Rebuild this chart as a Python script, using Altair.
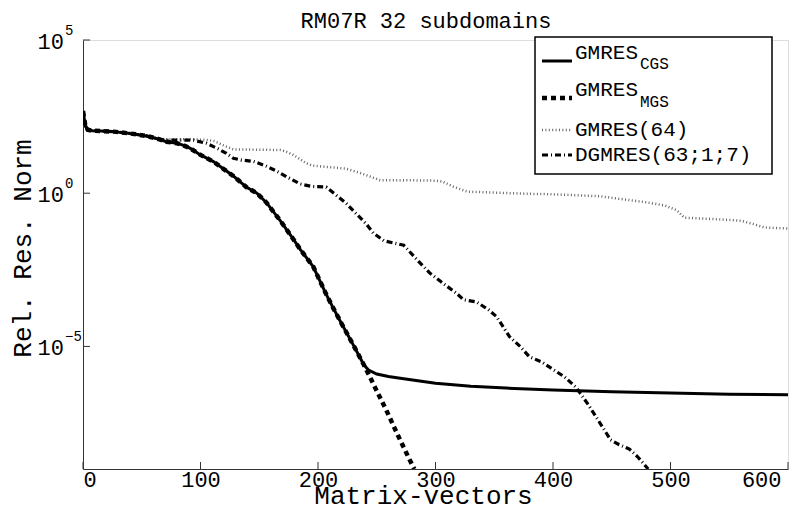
import altair as alt
import pandas as pd

TITLE = "RM07R 32 subdomains"
X_TITLE = "Matrix-vectors"
Y_TITLE = "Rel. Res. Norm"
FONT = "Liberation Mono"

x_ticks = [0, 100, 200, 300, 400, 500, 600]
y_tick_vals = [1e5, 1e0, 1e-5]
y_tick_exp = ["5", "0", "\u22125"]

# exponents (log10 of relative residual norm)
cgs_x = [0, 1, 2, 4, 8, 15, 26, 40, 54, 64, 71, 80, 85, 91, 100, 111, 120, 128, 139, 148,
         156, 168, 179, 185, 196, 207, 213, 220, 230, 239, 243, 250, 260, 270, 285, 300,
         330, 360, 400, 450, 500, 550, 600]
cgs_e = [2.68, 2.45, 2.2, 2.07, 2.04, 2.03, 2.01, 1.95, 1.87, 1.77, 1.68, 1.63, 1.57, 1.47,
         1.25, 1.03, 0.78, 0.56, 0.2, 0.0, -0.3, -0.9, -1.5, -1.84, -2.4, -3.3, -3.75, -4.25,
         -4.95, -5.6, -5.77, -5.9, -5.98, -6.04, -6.12, -6.2, -6.3, -6.36, -6.42, -6.48,
         -6.52, -6.56, -6.58]

mgs_x = [0, 1, 2, 4, 8, 15, 26, 40, 54, 64, 71, 80, 85, 91, 100, 111, 120, 128, 139, 148,
         156, 168, 179, 185, 196, 207, 213, 220, 230, 239, 241, 250, 258, 268, 278, 282]
mgs_e = [2.68, 2.45, 2.2, 2.07, 2.04, 2.03, 2.01, 1.95, 1.87, 1.77, 1.68, 1.63, 1.57, 1.47,
         1.25, 1.03, 0.78, 0.56, 0.2, 0.0, -0.3, -0.9, -1.5, -1.84, -2.4, -3.3, -3.75, -4.25,
         -4.95, -5.6, -5.75, -6.45, -7.07, -7.9, -8.7, -9.0]

g64_x = [0, 1, 2, 4, 8, 15, 26, 40, 54, 64, 75, 90, 105, 112, 119, 128, 150, 168, 172, 179,
         190, 195, 210, 224, 236, 241, 253, 280, 300, 306, 316, 327, 350, 380, 395, 410,
         440, 460, 480, 495, 505, 512, 540, 560, 570, 580, 600]
g64_e = [2.68, 2.45, 2.2, 2.07, 2.04, 2.03, 2.01, 1.95, 1.87, 1.77, 1.76, 1.76, 1.74, 1.70,
         1.57, 1.43, 1.42, 1.41, 1.37, 1.25, 0.98, 0.9, 0.85, 0.8, 0.66, 0.59, 0.42, 0.42,
         0.41, 0.38, 0.2, 0.05, 0.02, -0.02, -0.03, -0.05, -0.1, -0.2, -0.3, -0.4, -0.55,
         -0.8, -0.85, -0.9, -1.0, -1.12, -1.15]

dg_x = [0, 1, 2, 4, 8, 15, 26, 40, 54, 64, 68, 80, 94, 105, 115, 122, 128, 135, 145, 155,
        165, 175, 185, 195, 207, 215, 224, 232, 241, 247, 256, 265, 273, 285, 295, 305, 318,
        324, 335, 345, 352, 363, 372, 380, 390, 400, 410, 420, 430, 440, 449, 456, 465, 472,
        481]
dg_e = [2.68, 2.45, 2.2, 2.07, 2.04, 2.03, 2.01, 1.95, 1.87, 1.77, 1.74, 1.73, 1.73, 1.63,
        1.45, 1.3, 1.14, 1.08, 1.04, 0.9, 0.72, 0.5, 0.3, 0.22, 0.2, -0.05, -0.33, -0.65,
        -1.0, -1.3, -1.55, -1.63, -1.7, -2.2, -2.6, -2.9, -3.27, -3.48, -3.55, -3.8, -4.03,
        -4.68, -5.0, -5.34, -5.5, -5.75, -6.0, -6.35, -6.9, -7.5, -8.05, -8.2, -8.35, -8.6,
        -9.0]

W, H = 705, 429


def frame(xs, es):
    return pd.DataFrame({"v": xs, "r": [10.0 ** e for e in es]})


xscale = alt.Scale(domain=[0, 600], nice=False, zero=False)
yscale = alt.Scale(type="log", domain=[1e-9, 1e5], nice=False)
xaxis = alt.Axis(title=X_TITLE, values=x_ticks, ticks=False, grid=False, labelFont=FONT,
                 labelFontSize=22, labelPadding=0, labelColor="black", domainColor="#333",
                 labelOffset={"condition": {"test": "datum.value == 600", "value": -7},
                              "value": 0},
                 titleFont=FONT, titleFontSize=26, titleFontWeight="normal", titleColor="black",
                 titleBaseline="alphabetic", titleY=34, titleX=340)
yaxis = alt.Axis(title=Y_TITLE, labels=False, ticks=False, grid=False, domainColor="#333",
                 titleFont=FONT, titleFontSize=26, titleFontWeight="normal", titleColor="black",
                 titleBaseline="alphabetic", titleX=-53, titleY=208, titleAngle=270)


def enc():
    return dict(x=alt.X("v:Q", scale=xscale, axis=xaxis), y=alt.Y("r:Q", scale=yscale, axis=yaxis))


g64 = alt.Chart(frame(g64_x, g64_e)).mark_line(
    color="#666", strokeWidth=2.5, strokeDash=[1, 2.4], clip=True).encode(**enc())
dg = alt.Chart(frame(dg_x, dg_e)).mark_line(
    color="black", strokeWidth=3.2, strokeDash=[6, 3, 1, 3], clip=True).encode(**enc())
cgs = alt.Chart(frame(cgs_x, cgs_e)).mark_line(
    color="black", strokeWidth=3, clip=True).encode(**enc())
mgs = alt.Chart(frame(mgs_x, mgs_e)).mark_line(
    color="black", strokeWidth=4.5, strokeDash=[5, 4], clip=True).encode(**enc())

xt = alt.Chart(pd.DataFrame({"v": x_ticks})).mark_rule(color="#333", strokeWidth=1).encode(
    x=alt.X("v:Q", scale=xscale, axis=xaxis), y=alt.value(H), y2=alt.value(H - 7))
yt = alt.Chart(pd.DataFrame({"r": y_tick_vals})).mark_rule(color="#333", strokeWidth=1).encode(
    y=alt.Y("r:Q", scale=yscale, axis=yaxis), x=alt.value(0), x2=alt.value(7))

ylab_df = pd.DataFrame({"r": y_tick_vals, "e": y_tick_exp})
ylab_base = alt.Chart(ylab_df).mark_text(
    text="10", font=FONT, fontSize=22, align="right", baseline="middle", dy=2, color="black"
).encode(y=alt.Y("r:Q", scale=yscale, axis=yaxis), x=alt.value(-19))
ylab_exp = alt.Chart(ylab_df).mark_text(
    font=FONT, fontSize=14, align="left", baseline="middle", dy=-9, color="black"
).encode(y=alt.Y("r:Q", scale=yscale, axis=yaxis), x=alt.value(-18), text="e:N")

one = pd.DataFrame({"a": [0]})

title = alt.Chart(one).mark_text(
    text=TITLE, font=FONT, fontSize=22, align="center", baseline="alphabetic", color="black"
).encode(x=alt.value(343), y=alt.value(-12))

box = alt.Chart(one).mark_rect(fill="white", stroke="black", strokeWidth=1.5).encode(
    x=alt.value(452), x2=alt.value(689), y=alt.value(-3), y2=alt.value(134))


def sample(yy, **kw):
    return alt.Chart(one).mark_rule(color=kw.pop("color", "black"), **kw).encode(
        x=alt.value(459), x2=alt.value(489), y=alt.value(yy))


def label(txt, xx, yy, size):
    return alt.Chart(one).mark_text(text=txt, font=FONT, fontSize=size, align="left",
                                    baseline="middle", color="black").encode(
        x=alt.value(xx), y=alt.value(yy))


legend = [
    box,
    sample(21, strokeWidth=3),
    sample(58, strokeWidth=4.5, strokeDash=[5, 4]),
    sample(90, strokeWidth=2.5, strokeDash=[1, 2.4], color="#666"),
    sample(115, strokeWidth=3.2, strokeDash=[6, 3, 1, 3]),
    label("GMRES", 492, 13, 21),
    label("CGS", 557, 24, 16),
    label("GMRES", 492, 50, 21),
    label("MGS", 557, 62, 16),
    label("GMRES(64)", 492, 90, 21),
    label("DGMRES(63;1;7)", 492, 115, 21),
]

chart = alt.layer(g64, dg, cgs, mgs, xt, yt, ylab_base, ylab_exp, title, *legend).properties(
    width=W, height=H,
    autosize=alt.AutoSizeParams(type="none"),
    padding={"left": 75, "top": 32, "right": 13, "bottom": 35},
).configure_view(stroke=None).configure(background="white")

chart.save("out.html", embed_options={"renderer": "svg", "actions": False})
